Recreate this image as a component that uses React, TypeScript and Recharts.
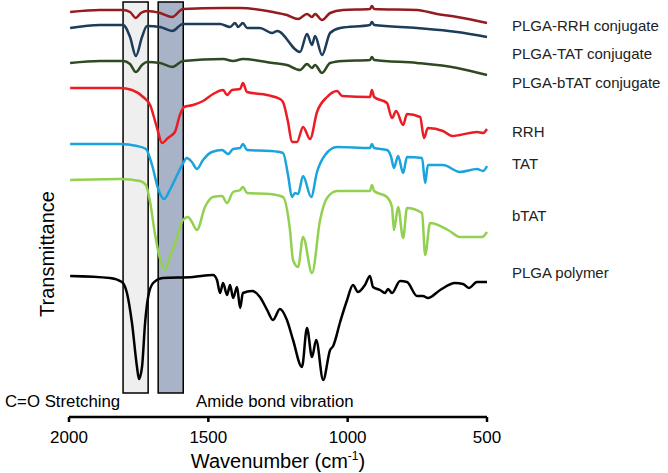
import React from 'react';
import { LineChart, Line, XAxis, YAxis, ReferenceArea } from 'recharts';

// [wavenumber (cm-1), transmittance (a.u., offset stacked)]
const plgaRrhConj: [number, number][] = [
  [1996, 405], [1889, 407], [1806, 407], [1781, 405], [1760, 399], [1742, 404], [1720, 406],
  [1673, 404], [1630, 400], [1591, 408], [1447, 409], [1386, 409], [1268, 405], [1218, 402],
  [1178, 398], [1146, 403], [1128, 400], [1117, 403], [1092, 397], [1063, 404], [1017, 407],
  [920, 408], [913, 411], [905, 408], [751, 407], [679, 403], [607, 400], [500, 394],
];

const plgaTatConj: [number, number][] = [
  [1996, 389], [1889, 392], [1806, 392], [1781, 380], [1760, 361], [1738, 380], [1720, 391],
  [1673, 390], [1630, 386], [1591, 393], [1458, 393], [1422, 390], [1404, 394], [1393, 390],
  [1376, 394], [1361, 389], [1315, 389], [1271, 384], [1253, 386], [1171, 365], [1146, 383],
  [1128, 372], [1117, 381], [1092, 362], [1063, 384], [1027, 389], [920, 392], [913, 395],
  [905, 392], [751, 389], [607, 385], [500, 380],
];

const plgaBtatConj: [number, number][] = [
  [1996, 354], [1889, 356], [1806, 356], [1781, 353], [1760, 345], [1738, 352], [1720, 355],
  [1673, 354], [1630, 350], [1591, 356], [1447, 358], [1411, 356], [1376, 358], [1268, 354],
  [1218, 352], [1171, 347], [1146, 353], [1128, 349], [1117, 352], [1092, 344], [1063, 354],
  [1017, 356], [920, 357], [913, 360], [905, 357], [751, 354], [607, 349], [500, 342],
];

const rrh: [number, number][] = [
  [1996, 329], [1889, 329], [1817, 329], [1774, 327], [1734, 320], [1709, 312], [1684, 289],
  [1666, 274], [1645, 279], [1620, 285], [1602, 302], [1587, 310], [1555, 312], [1519, 316],
  [1483, 323], [1447, 327], [1433, 322], [1415, 327], [1386, 328], [1376, 334], [1361, 325],
  [1289, 322], [1243, 318], [1232, 315], [1214, 295], [1200, 275], [1182, 275], [1160, 290],
  [1135, 278], [1110, 305], [1074, 320], [1038, 326], [1020, 321], [920, 320], [913, 327],
  [905, 320], [859, 314], [841, 299], [826, 306], [801, 292], [787, 303], [740, 300],
  [726, 279], [712, 289], [658, 286], [625, 281], [597, 282], [536, 285], [514, 284], [500, 288],
];

const tat: [number, number][] = [
  [1996, 273], [1817, 273], [1756, 271], [1724, 268], [1702, 252], [1681, 229], [1659, 218],
  [1638, 227], [1612, 242], [1594, 252], [1577, 259], [1559, 255], [1541, 248], [1519, 257],
  [1487, 265], [1451, 267], [1429, 263], [1411, 268], [1386, 269], [1376, 273], [1361, 267],
  [1279, 266], [1232, 264], [1214, 242], [1200, 220], [1189, 224], [1178, 223], [1160, 241],
  [1131, 220], [1110, 245], [1081, 262], [1038, 270], [920, 269], [913, 273], [905, 269],
  [859, 267], [844, 260], [834, 249], [819, 261], [801, 244], [787, 260], [733, 259],
  [722, 234], [712, 252], [658, 252], [597, 245], [536, 248], [514, 246], [500, 251],
];

const btat: [number, number][] = [
  [1996, 237], [1817, 238], [1745, 236], [1724, 232], [1709, 215], [1691, 182], [1673, 158],
  [1655, 147], [1638, 160], [1612, 180], [1591, 197], [1573, 200], [1559, 195], [1541, 187],
  [1512, 210], [1483, 220], [1451, 221], [1433, 214], [1411, 225], [1386, 227], [1376, 230],
  [1361, 224], [1279, 223], [1232, 220], [1207, 187], [1196, 157], [1178, 150], [1160, 180],
  [1128, 144], [1099, 197], [1074, 219], [1038, 226], [920, 226], [913, 232], [905, 226],
  [859, 220], [841, 210], [834, 187], [819, 210], [801, 179], [787, 209], [733, 204],
  [722, 162], [704, 194], [640, 187], [597, 180], [518, 180], [500, 185],
];

const plgaPolymer: [number, number][] = [
  [1996, 141], [1853, 139], [1810, 135], [1792, 124], [1774, 94], [1756, 50], [1749, 38],
  [1738, 50], [1727, 94], [1716, 120], [1698, 134], [1663, 139], [1555, 140], [1483, 142],
  [1469, 137], [1458, 124], [1447, 134], [1433, 122], [1422, 132], [1411, 119], [1397, 130],
  [1386, 109], [1376, 124], [1343, 126], [1315, 120], [1289, 107], [1268, 97], [1243, 108],
  [1218, 97], [1196, 77], [1164, 50], [1146, 89], [1128, 60], [1113, 77], [1088, 37],
  [1063, 67], [1052, 71], [1027, 95], [1002, 117], [981, 132], [963, 125], [938, 132],
  [920, 141], [909, 130], [884, 127], [866, 124], [855, 128], [841, 124], [812, 136],
  [787, 135], [751, 121], [730, 121], [712, 119], [668, 127], [615, 134], [586, 133],
  [565, 129], [536, 135], [500, 135],
];

const seriesNames = [
  'PLGA-RRH conjugate', 'PLGA-TAT conjugate', 'PLGA-bTAT conjugate',
  'RRH', 'TAT', 'bTAT', 'PLGA polymer',
];
const seriesData = [plgaRrhConj, plgaTatConj, plgaBtatConj, rrh, tat, btat, plgaPolymer];
const seriesColors = ['#951b1e', '#1d3c5a', '#2f4a22', '#ec1c24', '#1aa3dd', '#92d050', '#000000'];
const labelY = [26, 54, 83, 132, 164, 216, 273];

const xTicks = [2000, 1500, 1000, 500];
const coBand = [1806, 1716];
const amideBand = [1680, 1590];

const font = 'Arial, "Liberation Sans", Helvetica, sans-serif';

export default function App() {
  return (
    <div style={{ position: 'absolute', left: 0, top: 0, width: 668, height: 473, background: '#fff', fontFamily: font }}>
      <LineChart width={668} height={473} margin={{ top: 2, right: 181, left: 69, bottom: 0 }}>
        <XAxis
          type="number"
          dataKey="w"
          domain={[500, 2000]}
          reversed
          ticks={xTicks}
          allowDuplicatedCategory={false}
          height={56}
          axisLine={{ stroke: '#000', strokeWidth: 2.5 }}
          tickLine={{ stroke: '#000', strokeWidth: 2.5 }}
          tickSize={5}
          tickMargin={9}
          tick={{ fill: '#000', fontSize: 17, fontFamily: font }}
        />
        <YAxis type="number" domain={[0, 415]} hide width={0} />
        <ReferenceArea x1={coBand[0]} x2={coBand[1]} y1={24} y2={415} fill="#efefef" fillOpacity={1} stroke="#000" strokeWidth={1.5} />
        <ReferenceArea x1={amideBand[0]} x2={amideBand[1]} y1={24} y2={415} fill="#a9b3c8" fillOpacity={1} stroke="#000" strokeWidth={1.5} />
        {seriesData.map((s, i) => (
          <Line
            key={seriesNames[i]}
            name={seriesNames[i]}
            data={s.map(([w, t]) => ({ w, t }))}
            dataKey="t"
            type="monotone"
            stroke={seriesColors[i]}
            strokeWidth={2.5}
            dot={false}
            isAnimationActive={false}
          />
        ))}
      </LineChart>
      {seriesNames.map((n, i) => (
        <div key={n} style={{ position: 'absolute', left: 512, top: labelY[i] - 10, fontSize: 15, lineHeight: '20px', color: '#222', whiteSpace: 'nowrap' }}>
          {n}
        </div>
      ))}
      <div style={{ position: 'absolute', left: 5, top: 392, fontSize: 16.8, lineHeight: '20px', color: '#000', whiteSpace: 'nowrap' }}>
        C=O Stretching
      </div>
      <div style={{ position: 'absolute', left: 196, top: 392, fontSize: 16.8, lineHeight: '20px', color: '#000', whiteSpace: 'nowrap' }}>
        Amide bond vibration
      </div>
      <div style={{ position: 'absolute', left: 0, top: 449, width: 556, textAlign: 'center', fontSize: 20, lineHeight: '24px', color: '#000', whiteSpace: 'nowrap' }}>
        Wavenumber (cm<sup style={{ fontSize: 12, verticalAlign: 'top', lineHeight: '14px' }}>-1</sup>)
      </div>
      <div style={{ position: 'absolute', left: 47 - 80, top: 254 - 12, width: 160, textAlign: 'center', fontSize: 20, lineHeight: '24px', color: '#000', transform: 'rotate(-90deg)', whiteSpace: 'nowrap' }}>
        Transmittance
      </div>
    </div>
  );
}
